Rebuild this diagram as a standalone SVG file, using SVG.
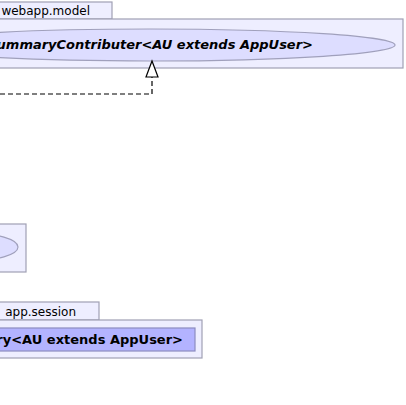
<svg xmlns="http://www.w3.org/2000/svg" width="406" height="405" viewBox="0 0 406 405">
<style>
.pkg{fill:#eeeeff;stroke:#a0a0b4;stroke-width:1.2}
.ell{fill:#ddddff;stroke:#a0a0bc;stroke-width:1.2}
.cls{fill:#b3b3ff;stroke:#8c8cc0;stroke-width:1.2}
.tab{font-family:"DejaVu Sans",sans-serif;font-size:12px;fill:#000}
.lbl{font-family:"DejaVu Sans",sans-serif;font-size:13px;font-weight:bold;fill:#000}
.conn{fill:none;stroke:#000;stroke-width:1.2;stroke-dasharray:5,3}
</style>
<rect width="406" height="405" fill="#fff"/>
<g id="pkg-model">
<rect class="pkg" x="-5" y="2" width="117" height="17"/>
<rect class="pkg" x="-5" y="19" width="408" height="49"/>
<text class="tab" x="90" y="15" text-anchor="end">webapp.model</text>
</g>
<g id="SummaryContributer">
<ellipse class="ell" cx="150" cy="45" rx="245" ry="16"/>
<text class="lbl" x="313" y="49" text-anchor="end" font-style="italic">ummaryContributer&lt;AU extends AppUser&gt;</text>
</g>
<g id="pkg-middle">
<rect class="pkg" x="-5" y="224" width="31" height="48"/>
</g>
<g id="middle-node">
<ellipse class="ell" cx="-30" cy="247" rx="48" ry="14"/>
</g>
<g id="pkg-session">
<rect class="pkg" x="-5" y="302" width="104" height="18"/>
<rect class="pkg" x="-5" y="320" width="207" height="38"/>
<text class="tab" x="76" y="316" text-anchor="end">app.session</text>
</g>
<g id="Summary">
<rect class="cls" x="-5" y="328" width="200" height="23"/>
<text class="lbl" x="183" y="344" text-anchor="end">ry&lt;AU extends AppUser&gt;</text>
</g>
<g id="connectors">
<polyline class="conn" points="0,94 152,94 152,77"/>
<polygon points="152,61 146,77 158,77" fill="#fff" stroke="#000" stroke-width="1.2"/>
</g>
</svg>
